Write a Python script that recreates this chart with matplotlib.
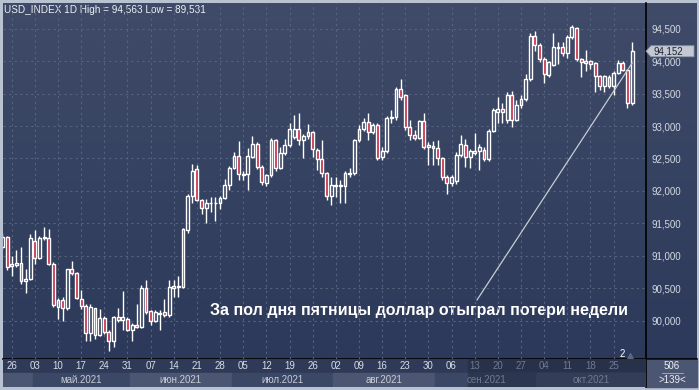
import numpy as np
import pandas as pd
import matplotlib
matplotlib.use('Agg')
import matplotlib.pyplot as plt
from matplotlib.colors import LinearSegmentedColormap
from matplotlib.patches import Rectangle, Polygon

plt.rcParams['font.family'] = ['Liberation Sans', 'DejaVu Sans']

# daily candles, 22.04.2021 .. 29.10.2021 (index 0 = Mon 26.04)
dates = pd.bdate_range('2021-04-22', '2021-10-29')
opens = [91.13, 91.29, 90.85, 90.86, 90.89, 90.61, 90.64, 91.23, 90.97, 91.27,
         91.27, 90.88, 90.21, 90.32, 90.19, 90.79, 90.73, 90.33, 90.23, 89.81,
         90.19, 89.78, 90.04, 89.83, 89.69, 90.06, 90.01, 90.03, 89.86, 89.94,
         89.91, 90.51, 90.15, 90.00, 90.10, 90.13, 90.09, 90.51, 90.52, 90.52,
         91.39, 91.92, 92.34, 91.86, 91.73, 91.81, 91.81, 91.81, 91.89, 92.09,
         92.35, 92.54, 92.24, 92.26, 92.53, 92.72, 92.37, 92.12, 92.24, 92.78,
         92.36, 92.58, 92.71, 92.83, 92.96, 92.78, 92.85, 92.90, 92.63, 92.49,
         92.27, 91.92, 92.08, 92.08, 92.08, 92.26, 92.27, 92.78, 92.96, 93.06,
         92.90, 93.02, 92.52, 92.61, 93.12, 93.14, 93.57, 93.48, 92.99, 92.86,
         92.82, 93.07, 92.67, 92.69, 92.66, 92.50, 92.22, 92.12, 92.16, 92.55,
         92.71, 92.53, 92.59, 92.61, 92.63, 92.49, 92.92, 93.22, 93.26, 93.09,
         93.48, 93.10, 93.32, 93.41, 93.72, 94.38, 94.25, 94.04, 93.79, 93.94,
         94.20, 94.22, 94.12, 94.37, 94.51, 94.03, 93.97, 94.00, 93.97, 93.77,
         93.61, 93.76, 93.62, 93.82, 93.97, 93.86, 93.36]
highs = [91.35, 91.31, 90.99, 91.09, 91.13, 90.80, 91.33, 91.40, 91.31, 91.44,
         91.41, 90.90, 90.35, 90.36, 90.80, 90.92, 90.75, 90.48, 90.25, 90.25,
         90.20, 90.18, 90.08, 89.85, 90.08, 90.19, 90.46, 90.06, 89.97, 90.25,
         90.55, 90.63, 90.17, 90.16, 90.17, 90.33, 90.63, 90.63, 90.69, 91.43,
         91.95, 92.41, 92.40, 91.88, 91.88, 91.91, 91.91, 91.92, 92.19, 92.38,
         92.60, 92.77, 92.30, 92.66, 92.85, 92.75, 92.40, 92.26, 92.81, 92.80,
         92.68, 92.80, 93.04, 93.17, 93.20, 92.88, 93.03, 92.93, 92.66, 92.78,
         92.29, 92.21, 92.21, 92.17, 92.30, 92.35, 92.80, 93.02, 93.13, 93.20,
         93.05, 93.04, 92.67, 93.16, 93.25, 93.60, 93.72, 93.50, 93.09, 92.94,
         93.09, 93.20, 92.76, 92.77, 92.78, 92.52, 92.24, 92.25, 92.60, 92.86,
         92.80, 92.65, 92.89, 92.72, 92.68, 92.95, 93.27, 93.45, 93.35, 93.52,
         93.54, 93.40, 93.48, 93.80, 94.43, 94.46, 94.28, 94.06, 94.00, 94.44,
         94.30, 94.30, 94.40, 94.563, 94.53, 94.05, 94.17, 94.02, 93.99, 93.78,
         93.79, 93.78, 93.84, 94.02, 94.00, 93.88, 94.30]
lows = [91.10, 90.78, 90.69, 90.83, 90.57, 90.43, 90.62, 90.88, 90.95, 91.25,
        90.86, 90.21, 90.02, 89.99, 90.17, 90.70, 90.33, 90.18, 89.69, 89.69,
        89.72, 89.76, 89.80, 89.531, 89.60, 89.98, 89.86, 89.84, 89.68, 89.89,
        89.89, 90.10, 89.93, 89.98, 89.86, 90.05, 90.05, 90.36, 90.36, 90.50,
        91.35, 91.81, 91.84, 91.64, 91.51, 91.68, 91.53, 91.72, 91.87, 92.01,
        92.33, 92.17, 92.17, 92.01, 92.50, 92.34, 92.09, 92.08, 92.22, 92.30,
        92.34, 92.55, 92.68, 92.80, 92.70, 92.50, 92.80, 92.53, 92.32, 92.21,
        91.86, 91.78, 91.91, 91.81, 91.81, 92.22, 92.25, 92.75, 92.93, 92.78,
        92.87, 92.47, 92.47, 92.59, 93.05, 93.10, 93.40, 92.94, 92.78, 92.79,
        92.80, 92.64, 92.40, 92.40, 92.40, 92.17, 91.95, 92.08, 92.10, 92.52,
        92.37, 92.35, 92.55, 92.32, 92.46, 92.46, 92.90, 93.04, 93.04, 93.05,
        92.99, 93.07, 93.28, 93.38, 93.70, 94.15, 93.98, 93.67, 93.76, 93.92,
        93.95, 94.08, 94.05, 94.34, 94.00, 93.76, 93.84, 93.88, 93.53, 93.56,
        93.53, 93.58, 93.48, 93.80, 93.84, 93.27, 93.32]
closes = [91.29, 90.82, 90.88, 90.89, 90.61, 90.65, 91.28, 90.97, 91.28, 91.29,
          90.88, 90.24, 90.32, 90.19, 90.79, 90.73, 90.35, 90.23, 89.81, 90.21,
          89.78, 90.04, 89.83, 89.69, 90.06, 90.01, 90.06, 89.86, 89.94, 89.91,
          90.51, 90.13, 89.99, 90.13, 90.12, 90.09, 90.52, 90.53, 90.53, 91.41,
          91.92, 92.31, 91.86, 91.73, 91.82, 91.82, 91.82, 91.89, 92.09, 92.35,
          92.54, 92.26, 92.26, 92.54, 92.72, 92.37, 92.13, 92.24, 92.78, 92.36,
          92.58, 92.71, 92.96, 92.96, 92.78, 92.85, 92.90, 92.65, 92.49, 92.27,
          91.92, 92.09, 92.09, 92.09, 92.27, 92.27, 92.78, 92.96, 93.06, 92.90,
          93.02, 92.50, 92.61, 93.13, 93.14, 93.57, 93.44, 92.99, 92.86, 92.82,
          93.07, 92.67, 92.70, 92.66, 92.50, 92.22, 92.12, 92.22, 92.55, 92.72,
          92.53, 92.61, 92.61, 92.67, 92.49, 92.92, 93.24, 93.26, 93.22, 93.48,
          93.10, 93.32, 93.41, 93.72, 94.38, 94.25, 94.03, 93.80, 93.98, 94.22,
          94.22, 94.12, 94.37, 94.52, 94.03, 93.98, 94.00, 93.96, 93.77, 93.61,
          93.77, 93.62, 93.82, 93.97, 93.86, 93.36, 94.152]

price_levels = [90.0, 90.5, 91.0, 91.5, 92.0, 92.5, 93.0, 93.5, 94.0, 94.5]
day_labels = ['26', '03', '10', '17', '24', '31', '07', '14', '21', '28', '05', '12', '19', '26',
              '02', '09', '16', '23', '30', '06', '13', '20', '27', '04', '11', '18', '25']
month_labels = ['май.2021', 'июн.2021', 'июл.2021', 'авг.2021', 'сен.2021', 'окт.2021']
note = 'За пол дня пятницы доллар отыграл потери недели'
note_line = [(100.5, 90.32), (134.0, 93.97)]   # from text to last candles
dim_from = 98.5   # labels after this are greyed in the terminal

idx = np.arange(len(dates)) - 2
mondays = idx[dates.weekday == 0]

W, H = 699, 390
fig = plt.figure(figsize=(W / 100, H / 100), dpi=100, facecolor='#b9c2d0')


def rect(x0, y0, x1, y1):
    return [x0 / W, 1 - y1 / H, (x1 - x0) / W, (y1 - y0) / H]


# background layer in pixel coords
bg = fig.add_axes([0, 0, 1, 1])
bg.set_xlim(0, W)
bg.set_ylim(H, 0)
bg.axis('off')
cmap = LinearSegmentedColormap.from_list('bg', ['#3f4b68', '#2c395a'])
bg.imshow(np.linspace(0, 1, 256).reshape(-1, 1), cmap=cmap, extent=(3, 697, 359, 3),
          aspect='auto', zorder=0)

# candles
px_unit, x0_px = 4.63, 11.7
px_price, y90_px = 64.9, 320.7
ax = fig.add_axes(rect(3, 3, 645.7, 359))
ax.patch.set_alpha(0)
ax.set_xlim((3 - x0_px) / px_unit, (645.7 - x0_px) / px_unit)
ax.set_ylim(90 - (359 - y90_px) / px_price, 90 + (y90_px - 3) / px_price)
for s in ax.spines.values():
    s.set_visible(False)
ax.set_xticks(mondays)
ax.set_yticks(price_levels)
ax.set_yticklabels([f'{v:.3f}'.replace('.', ',') for v in price_levels])
ax.yaxis.tick_right()
ax.tick_params(axis='x', length=0, labelbottom=False)
ax.tick_params(axis='y', length=0, pad=4, labelsize=7, labelcolor='#d4d8e2')
ax.grid(color='#56637f', linestyle=(0, (2, 3)), linewidth=0.8)
ax.set_axisbelow(True)

for i, o, h, l, c in zip(idx, opens, highs, lows, closes):
    top, bot = max(o, c), min(o, c)
    ax.vlines(i, top, h, color='white', lw=1, zorder=3)
    ax.vlines(i, l, bot, color='white', lw=1, zorder=3)
    ax.add_patch(Rectangle((i - 0.31, bot), 0.62, max(top - bot, 0.01),
                           facecolor='#c3223f' if c < o else 'none',
                           edgecolor='white', lw=1, zorder=4))

(xa, ya), (xb, yb) = note_line
ax.plot([xa, xb], [ya, yb], color='#c8ccd6', lw=0.9, zorder=5)
bg.text(210, 311, note, fontsize=11.5, fontweight='bold', color='white', va='center', zorder=6)

hi, lo = max(highs), min(lows)
bg.text(4, 10, f'USD_INDEX 1D High = {hi:.3f} Low = {lo:.3f}'.replace('.', ','),
        fontsize=7.2, color='#eef0f5', va='center')

# last price marker
ylast = y90_px - (closes[-1] - 90) * px_price
bg.add_patch(Polygon([(646, ylast), (651, ylast - 5.5), (694, ylast - 5.5), (694, ylast + 5.5),
                      (651, ylast + 5.5)], closed=True, facecolor='#c3c8d2', edgecolor='#8e96a6',
                     lw=0.6, zorder=5))
bg.text(653, ylast, f'{closes[-1]:.3f}'.replace('.', ','), fontsize=7, color='#1e2233',
        va='center', zorder=6)

# date strip
dax = fig.add_axes(rect(3, 359, 645.7, 387))
dax.set_xlim(ax.get_xlim())
dax.set_ylim(2, 0)
dax.axis('off')
xl, xr = dax.get_xlim()
dax.add_patch(Rectangle((xl, 0), dim_from - xl, 1, color='#2e3a57'))
dax.add_patch(Rectangle((dim_from, 0), xr - dim_from, 1, color='#27314a'))
for m, lab in zip(mondays, day_labels):
    dax.text(m, 0.5, lab, fontsize=7, ha='center', va='center',
             color='#6f7b92' if m > dim_from else '#d8dce6')

starts = list(idx[np.r_[True, dates.month[1:] != dates.month[:-1]]] - 0.5)
starts[0] = xl
edges = starts + [xr]
shades = ['#4a5672', '#3a4765', '#4a5672', '#3a4765', '#4a5672', '#3a4765', '#4a5672']
for k in range(len(edges) - 1):
    a, b = edges[k], edges[k + 1]
    dax.add_patch(Rectangle((a, 1), b - a, 1, color=shades[k]))
    if a < dim_from < b:
        dax.add_patch(Rectangle((dim_from, 1), b - dim_from, 1, color='#2b3650'))
    elif a >= dim_from:
        dax.add_patch(Rectangle((a, 1), b - a, 1, color='#323e58'))
    if k > 0:
        dax.text((a + b) / 2, 1.5, month_labels[k - 1], fontsize=7, ha='center', va='center',
                 color='#6f7b92' if a >= dim_from or (a + b) / 2 > dim_from else '#c8ccd8')

# frame lines and corner box
bg.add_patch(Rectangle((646, 359.5), 51, 27.5, color='#4b5672', zorder=2))
bg.text(672, 366, '506', fontsize=7, color='#eef0f5', ha='center', va='center', zorder=3)
bg.plot([662, 683], [372.5, 372.5], color='#aab2c2', lw=0.6, zorder=3)
bg.text(672, 380, '>139<', fontsize=7, color='#eef0f5', ha='center', va='center', zorder=3)
bg.plot([3, 697], [359, 359], color='black', lw=1.2, zorder=4)
bg.plot([645.7, 645.7], [3, 387], color='black', lw=1.2, zorder=4)
bg.text(622, 354, '2', fontsize=7, color='white', ha='center', va='center', zorder=4)
bg.plot([630], [355.5], marker='^', ms=4, color='#5b6680', zorder=4)

fig.savefig('out.png', dpi=100, facecolor=fig.get_facecolor())
